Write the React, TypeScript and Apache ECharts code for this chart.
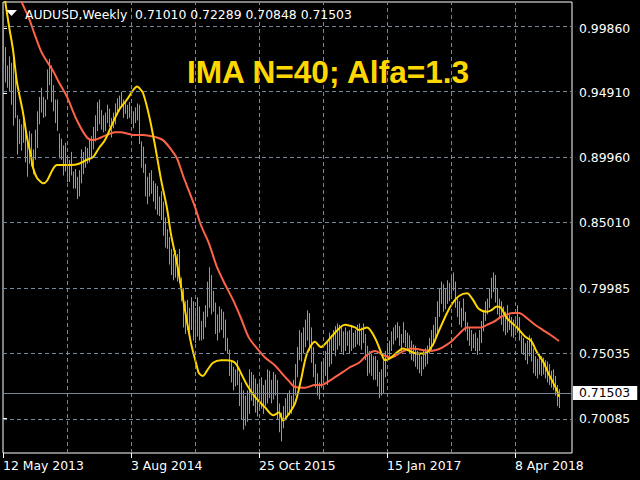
import React, { useEffect, useRef } from "react";
import * as echarts from "echarts";

// ---- data ----
const symbolTitle = "AUDUSD,Weekly  0.71010 0.72289 0.70848 0.71503";
const studyTitle = "IMA N=40; Alfa=1.3";
const lastPrice = 0.71503;

const xTickWeeks = [0, 64, 128, 192, 256];
const xTickLabels = ["12 May 2013", "3 Aug 2014", "25 Oct 2015", "15 Jan 2017", "8 Apr 2018"];
const xGridWeeks = [32, 64, 96, 128, 160, 192, 224, 256];
const yTickValues = [0.70085, 0.75035, 0.79985, 0.8501, 0.8996, 0.9491, 0.9986];

const barHigh = [
  0.999, 0.984, 0.970, 0.977, 0.972, 0.979, 0.968, 0.932, 0.929, 0.925,
  0.934, 0.923, 0.911, 0.920, 0.918, 0.906, 0.921, 0.935, 0.946, 0.953,
  0.946, 0.944, 0.967, 0.975, 0.970, 0.955, 0.944, 0.944, 0.918, 0.914,
  0.909, 0.911, 0.900, 0.898, 0.904, 0.889, 0.891, 0.885, 0.890, 0.906,
  0.904, 0.908, 0.907, 0.914, 0.916, 0.923, 0.932, 0.942, 0.944, 0.936,
  0.932, 0.934, 0.940, 0.937, 0.930, 0.934, 0.941, 0.945, 0.947, 0.950,
  0.944, 0.943, 0.940, 0.942, 0.938, 0.935, 0.938, 0.941, 0.940, 0.912,
  0.908, 0.895, 0.885, 0.888, 0.890, 0.882, 0.880, 0.878, 0.870, 0.874,
  0.866, 0.854, 0.845, 0.839, 0.830, 0.826, 0.829, 0.826, 0.830, 0.808,
  0.800, 0.790, 0.791, 0.785, 0.793, 0.790, 0.785, 0.793, 0.786, 0.775,
  0.782, 0.787, 0.805, 0.816, 0.810, 0.798, 0.789, 0.780, 0.786, 0.784,
  0.782, 0.776, 0.762, 0.753, 0.745, 0.740, 0.738, 0.745, 0.735, 0.728,
  0.722, 0.718, 0.722, 0.738, 0.736, 0.734, 0.731, 0.727, 0.728, 0.732,
  0.726, 0.730, 0.738, 0.737, 0.730, 0.736, 0.734, 0.730, 0.712, 0.705,
  0.710, 0.716, 0.720, 0.722, 0.718, 0.730, 0.742, 0.755, 0.768, 0.766,
  0.770, 0.776, 0.783, 0.781, 0.770, 0.755, 0.742, 0.735, 0.728, 0.744,
  0.745, 0.752, 0.760, 0.766, 0.764, 0.768, 0.771, 0.773, 0.772, 0.770,
  0.767, 0.770, 0.767, 0.768, 0.772, 0.766, 0.768, 0.772, 0.773, 0.770,
  0.773, 0.765, 0.756, 0.752, 0.750, 0.748, 0.748, 0.745, 0.736, 0.738,
  0.745, 0.752, 0.758, 0.760, 0.767, 0.770, 0.772, 0.774, 0.771, 0.765,
  0.774, 0.768, 0.766, 0.764, 0.760, 0.757, 0.756, 0.752, 0.750, 0.748,
  0.752, 0.754, 0.756, 0.762, 0.768, 0.772, 0.778, 0.790, 0.800, 0.805,
  0.803, 0.800, 0.806, 0.804, 0.810, 0.812, 0.805, 0.792, 0.790, 0.785,
  0.792, 0.782, 0.774, 0.770, 0.768, 0.765, 0.766, 0.762, 0.768, 0.775,
  0.783, 0.790, 0.792, 0.800, 0.808, 0.812, 0.810, 0.800, 0.792, 0.790,
  0.786, 0.782, 0.787, 0.780, 0.778, 0.776, 0.777, 0.787, 0.778, 0.764,
  0.762, 0.758, 0.760, 0.764, 0.762, 0.754, 0.748, 0.746, 0.750, 0.748,
  0.747, 0.745, 0.744, 0.742, 0.737, 0.738, 0.733, 0.726, 0.72289,
];

const barLow = [
  0.972, 0.957, 0.953, 0.950, 0.940, 0.924, 0.930, 0.902, 0.910, 0.905,
  0.911, 0.896, 0.885, 0.895, 0.893, 0.887, 0.898, 0.907, 0.925, 0.934,
  0.930, 0.931, 0.944, 0.955, 0.942, 0.935, 0.926, 0.920, 0.899, 0.898,
  0.886, 0.889, 0.881, 0.881, 0.886, 0.876, 0.876, 0.868, 0.870, 0.880,
  0.887, 0.892, 0.895, 0.896, 0.899, 0.906, 0.912, 0.920, 0.925, 0.921,
  0.919, 0.920, 0.926, 0.923, 0.915, 0.922, 0.925, 0.932, 0.935, 0.938,
  0.930, 0.933, 0.929, 0.930, 0.926, 0.922, 0.926, 0.928, 0.910, 0.892,
  0.888, 0.870, 0.864, 0.870, 0.872, 0.866, 0.860, 0.856, 0.855, 0.852,
  0.840, 0.831, 0.830, 0.818, 0.810, 0.806, 0.808, 0.805, 0.804, 0.790,
  0.770, 0.765, 0.768, 0.763, 0.768, 0.760, 0.758, 0.763, 0.760, 0.760,
  0.761, 0.770, 0.778, 0.785, 0.780, 0.782, 0.765, 0.760, 0.766, 0.768,
  0.762, 0.752, 0.750, 0.733, 0.728, 0.722, 0.725, 0.726, 0.710, 0.700,
  0.692, 0.695, 0.698, 0.704, 0.714, 0.710, 0.705, 0.702, 0.708, 0.708,
  0.704, 0.710, 0.712, 0.716, 0.712, 0.715, 0.718, 0.700, 0.690, 0.683,
  0.693, 0.699, 0.702, 0.703, 0.704, 0.710, 0.718, 0.732, 0.745, 0.744,
  0.750, 0.755, 0.760, 0.752, 0.743, 0.732, 0.724, 0.718, 0.715, 0.724,
  0.730, 0.733, 0.726, 0.740, 0.742, 0.752, 0.748, 0.753, 0.756, 0.751,
  0.749, 0.752, 0.756, 0.750, 0.752, 0.754, 0.755, 0.757, 0.756, 0.753,
  0.758, 0.745, 0.733, 0.735, 0.733, 0.730, 0.730, 0.725, 0.716, 0.718,
  0.720, 0.732, 0.744, 0.748, 0.752, 0.757, 0.760, 0.762, 0.756, 0.752,
  0.758, 0.755, 0.752, 0.750, 0.745, 0.744, 0.740, 0.738, 0.735, 0.733,
  0.738, 0.740, 0.742, 0.750, 0.752, 0.756, 0.762, 0.766, 0.778, 0.788,
  0.782, 0.784, 0.788, 0.790, 0.795, 0.798, 0.785, 0.778, 0.772, 0.770,
  0.775, 0.767, 0.760, 0.756, 0.752, 0.754, 0.752, 0.749, 0.752, 0.758,
  0.767, 0.775, 0.780, 0.785, 0.792, 0.797, 0.789, 0.780, 0.777, 0.772,
  0.767, 0.764, 0.766, 0.768, 0.763, 0.762, 0.764, 0.766, 0.760, 0.750,
  0.749, 0.745, 0.742, 0.748, 0.744, 0.735, 0.733, 0.731, 0.734, 0.733,
  0.734, 0.731, 0.728, 0.726, 0.724, 0.722, 0.718, 0.710, 0.70848,
];

// red moving average, sampled at week indices
const maWeeks = [
  0, 5, 10, 13, 16, 19, 22, 25, 28, 32, 37, 42, 45, 49, 52, 56, 59, 62, 65, 70,
  74, 77, 80, 84, 87, 90, 93, 96, 99, 103, 107, 111, 115, 119, 123, 127, 131, 136, 140, 143,
  146, 151, 156, 159, 163, 166, 170, 174, 178, 182, 186, 190, 194, 199, 204, 209, 213, 217, 220, 224,
  228, 232, 236, 239, 242, 245, 249, 252, 255, 258, 262, 266, 270, 274, 278,
];
const maValues = [
  1.05, 1.035, 1.016, 1.006, 0.993, 0.981, 0.973, 0.966, 0.957, 0.946, 0.928, 0.915, 0.913, 0.915, 0.917, 0.919, 0.919, 0.918, 0.917, 0.917,
  0.916, 0.915, 0.913, 0.906, 0.899, 0.886, 0.874, 0.862, 0.848, 0.834, 0.816, 0.803, 0.791, 0.777, 0.762, 0.754, 0.747, 0.741, 0.734, 0.729,
  0.7245, 0.724, 0.726, 0.726, 0.729, 0.732, 0.736, 0.74, 0.743, 0.749, 0.752, 0.749, 0.747, 0.751, 0.754, 0.753, 0.752, 0.753, 0.755, 0.759,
  0.765, 0.77, 0.77, 0.77, 0.772, 0.774, 0.778, 0.78, 0.781, 0.781, 0.777, 0.772, 0.768, 0.764, 0.7596,
];

// yellow IMA line, sampled at week indices
const imaWeeks = [
  0, 1, 3, 5, 7, 10, 12, 14, 15, 17, 19, 20, 22, 25, 27, 30, 34, 38, 42, 45,
  48, 51, 54, 58, 62, 65, 67, 68, 70, 73, 76, 79, 82, 84, 87, 91, 94, 97, 98, 100,
  102, 105, 109, 112, 116, 119, 122, 126, 131, 135, 138, 140, 142, 146, 149, 152, 156, 159, 162, 166,
  171, 176, 178, 182, 186, 189, 191, 194, 197, 200, 202, 207, 211, 215, 217, 222, 225, 228, 232, 235,
  238, 242, 244, 247, 249, 252, 257, 261, 264, 267, 270, 273, 277, 278,
];
const imaValues = [
  1.03, 1.02, 1.0, 0.982, 0.957, 0.934, 0.915, 0.901, 0.892, 0.884, 0.881, 0.88, 0.882, 0.891, 0.894, 0.894, 0.894, 0.895, 0.898, 0.9,
  0.907, 0.913, 0.923, 0.936, 0.944, 0.951, 0.954, 0.953, 0.949, 0.932, 0.909, 0.883, 0.861, 0.841, 0.819, 0.783, 0.758, 0.74, 0.735, 0.733,
  0.737, 0.743, 0.745, 0.745, 0.743, 0.735, 0.726, 0.717, 0.709, 0.703, 0.705, 0.699, 0.702, 0.712, 0.73, 0.75, 0.759, 0.755, 0.759, 0.766,
  0.772, 0.77, 0.768, 0.77, 0.762, 0.751, 0.745, 0.747, 0.751, 0.754, 0.753, 0.75, 0.75, 0.757, 0.764, 0.781, 0.789, 0.794, 0.796, 0.791,
  0.784, 0.782, 0.783, 0.786, 0.785, 0.777, 0.77, 0.763, 0.76, 0.751, 0.744, 0.734, 0.722, 0.717,
];

// ---- styles ----
const FONT = "DejaVu Sans";
const FS = 12.4;
const BAR_COLOR = "#2ee52e";
const MA_COLOR = "#ff6347";
const IMA_COLOR = "#ffd700";
const GRID_COLOR = "#778899";

export default function App() {
  const ref = useRef<HTMLDivElement>(null);

  useEffect(() => {
    if (!ref.current) return;
    const chart = echarts.init(ref.current, undefined, { renderer: "svg" });

    const bars = barHigh.map((h, i) => [i, barLow[i], h]);
    const ma = maWeeks.map((w, k) => [w, maValues[k]]);
    const ima = imaWeeks.map((w, k) => [w, imaValues[k]]);

    const dash = [4, 3];
    const gridMarks: any[] = [
      ...yTickValues.map((v) => ({ yAxis: v, lineStyle: { color: GRID_COLOR, type: dash, width: 1 }, label: { show: false } })),
      ...xGridWeeks.map((w) => ({ xAxis: w, lineStyle: { color: GRID_COLOR, type: dash, width: 1 }, label: { show: false } })),
      {
        yAxis: lastPrice,
        lineStyle: { color: GRID_COLOR, type: "solid", width: 1 },
        label: {
          show: true,
          position: "end",
          distance: 1,
          formatter: () => lastPrice.toFixed(5),
          color: "#000",
          backgroundColor: "#fff",
          fontFamily: FONT,
          fontSize: FS,
          padding: [1, 7, 1, 6],
        },
      },
    ];

    chart.setOption({
      animation: false,
      backgroundColor: "#000",
      grid: {
        left: 3,
        right: 68,
        top: 2,
        bottom: 27,
        show: true,
        borderColor: "#fff",
        borderWidth: 1,
        backgroundColor: "#000",
      },
      xAxis: {
        type: "value",
        min: 0,
        max: 284.5,
        interval: 64,
        axisLine: { show: false },
        splitLine: { show: false },
        axisTick: {
          show: true,
          customValues: xTickWeeks,
          length: 5,
          lineStyle: { color: "#fff" },
        },
        axisLabel: {
          show: true,
          customValues: xTickWeeks,
          formatter: (v: number) => {
            const k = xTickWeeks.indexOf(Math.round(v));
            return k >= 0 ? xTickLabels[k] : "";
          },
          align: "left",
          margin: 6,
          color: "#fff",
          fontFamily: FONT,
          fontSize: FS,
        },
      },
      yAxis: {
        type: "value",
        position: "right",
        min: 0.67413,
        max: 1.01845,
        scale: true,
        axisLine: { show: false },
        splitLine: { show: false },
        axisTick: {
          show: true,
          customValues: yTickValues,
          length: 4,
          lineStyle: { color: "#fff" },
        },
        axisLabel: {
          show: true,
          customValues: yTickValues,
          formatter: (v: number) => v.toFixed(5),
          margin: 7,
          color: "#fff",
          fontFamily: FONT,
          fontSize: FS,
        },
      },
      series: [
        {
          type: "line",
          z: 1,
          data: [],
          silent: true,
          markLine: {
            silent: true,
            symbol: ["none", "none"],
            animation: false,
            data: gridMarks,
          },
        },
        {
          type: "custom",
          z: 2,
          silent: true,
          clip: true,
          encode: { x: 0, y: [1, 2] },
          data: bars,
          renderItem: (params: any, api: any) => {
            const i = api.value(0);
            const lo = api.coord([i, api.value(1)]);
            const hi = api.coord([i, api.value(2)]);
            const x = Math.round(lo[0]) + 0.5;
            return {
              type: "line",
              shape: { x1: x, y1: lo[1], x2: x, y2: hi[1] },
              style: { stroke: BAR_COLOR, lineWidth: 1 },
            };
          },
        },
        {
          type: "line",
          z: 3,
          data: ma,
          showSymbol: false,
          smooth: 0.3,
          silent: true,
          lineStyle: { color: MA_COLOR, width: 2 },
        },
        {
          type: "line",
          z: 4,
          data: ima,
          showSymbol: false,
          smooth: 0.3,
          silent: true,
          lineStyle: { color: IMA_COLOR, width: 2 },
        },
      ],
      graphic: [
        {
          type: "polygon",
          z: 10,
          shape: { points: [[6, 10], [17, 10], [11.5, 16]] },
          style: { fill: "#fff" },
        },
        {
          type: "text",
          z: 10,
          x: 25,
          y: 14.5,
          style: {
            text: symbolTitle,
            fill: "#fff",
            font: `${FS}px "${FONT}"`,
            textVerticalAlign: "middle",
            verticalAlign: "middle",
          },
        },
        {
          type: "text",
          z: 10,
          x: 187,
          y: 72,
          style: {
            text: studyTitle,
            fill: IMA_COLOR,
            font: `bold 31.6px "Liberation Sans"`,
            textVerticalAlign: "middle",
            verticalAlign: "middle",
          },
        },
      ],
    });

    return () => chart.dispose();
  }, []);

  return (
    <div
      ref={ref}
      style={{ position: "fixed", left: 0, top: 0, width: 640, height: 480, background: "#000" }}
    />
  );
}
